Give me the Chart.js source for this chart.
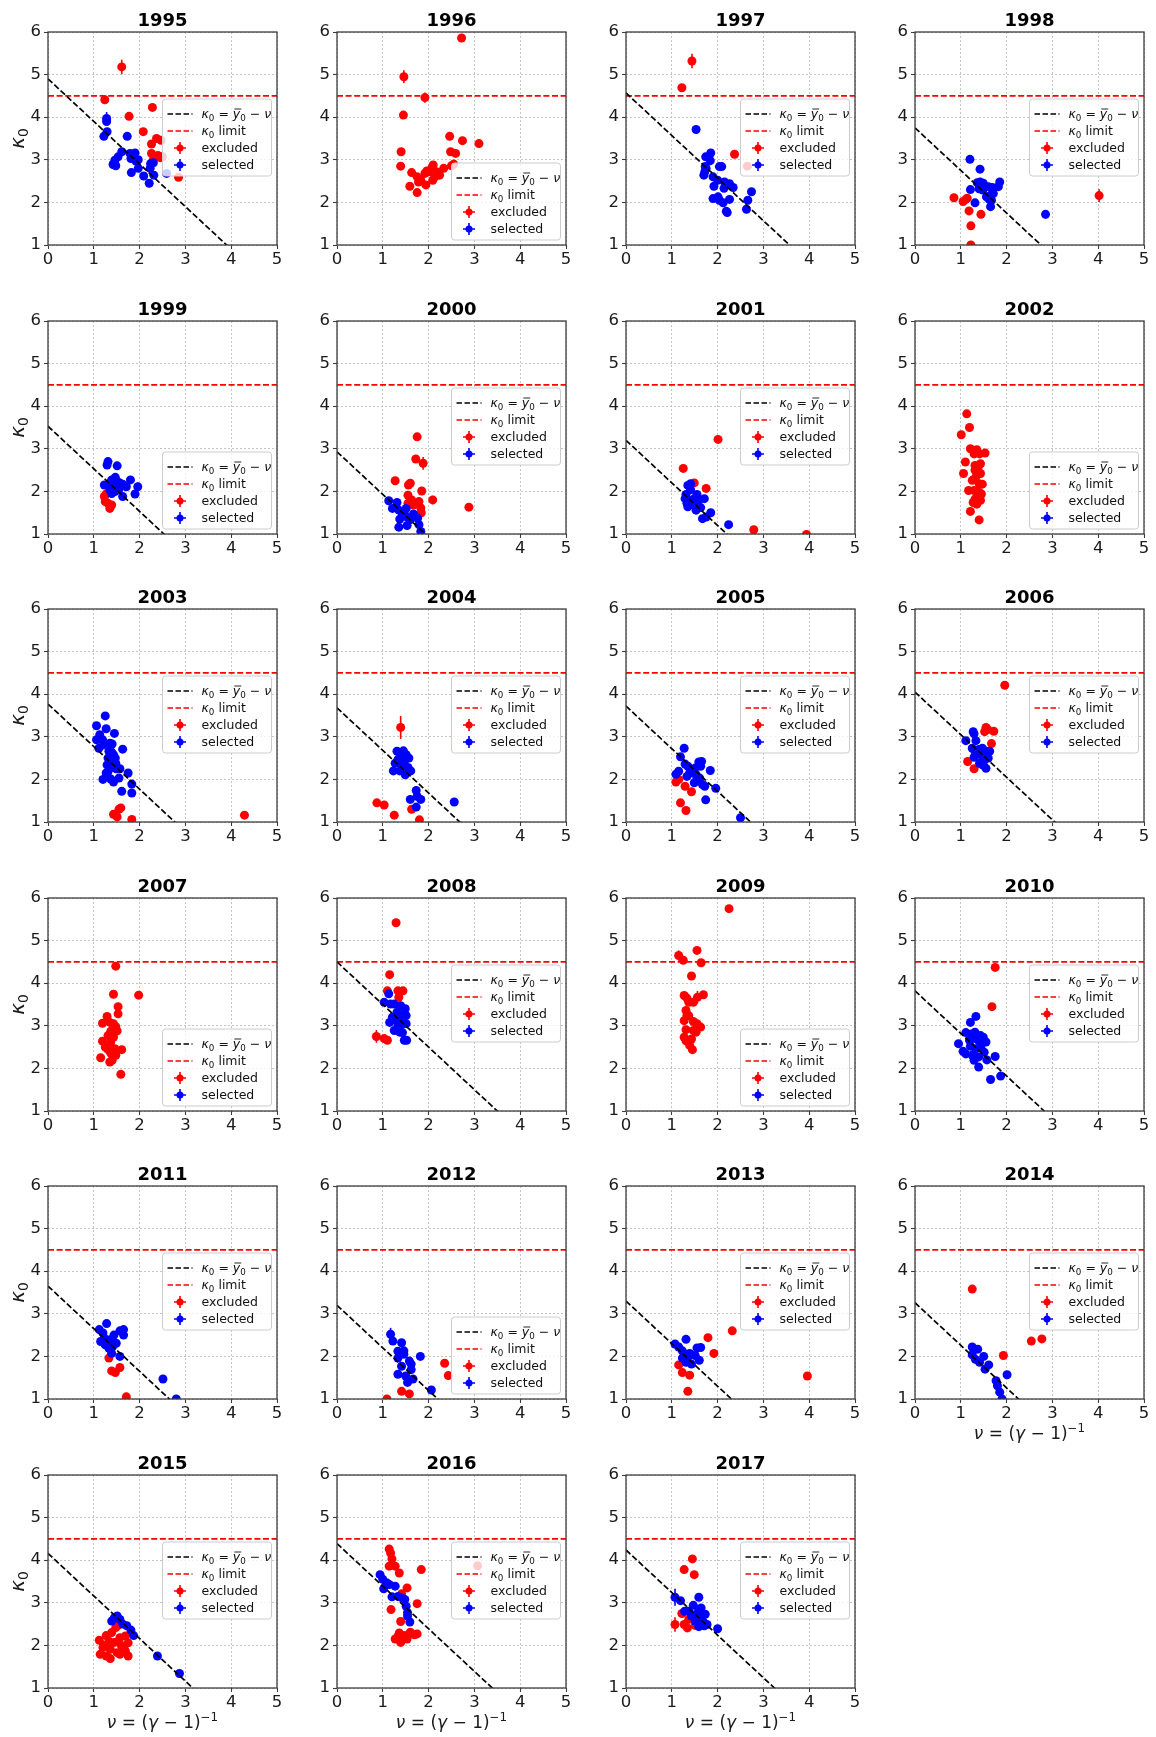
<!DOCTYPE html>
<html>
<head>
<meta charset="utf-8">
<script src="https://cdn.jsdelivr.net/npm/chart.js@4.4.1/dist/chart.umd.min.js"></script>
<style>
  html, body { margin: 0; padding: 0; background: #fff; }
  #grid { position: relative; width: 1156px; height: 1737px; overflow: hidden; }
  #grid canvas { position: absolute; }
</style>
</head>
<body>
<div id="grid"></div>
<script>
// one panel per year, 4 per row
const years = ['1995', '1996', '1997', '1998', '1999', '2000', '2001', '2002', '2003', '2004', '2005', '2006',
               '2007', '2008', '2009', '2010', '2011', '2012', '2013', '2014', '2015', '2016', '2017'];

// ȳ0 of the fitted line κ0 = ȳ0 − ν (null: no selected points that year)
const fitIntercept = [4.9, null, 4.57, 3.75, 3.53, 2.93, 3.2, null, 3.77, 3.68, 3.72, 4.05,
                      null, 4.5, null, 3.82, 3.65, 3.2, 3.3, 3.26, 4.16, 4.39, 4.24];

const kappaLimit = 4.5;

// where the legend sits in each panel
const legendSpot = ['center', 'lower', 'center', 'center', 'lower', 'center', 'center', 'lower', 'center', 'center', 'center', 'center',
                    'lower', 'center', 'lower', 'center', 'center', 'lower', 'center', 'center', 'center', 'center', 'center'];

// points are [ν, κ0, σ(κ0), σ(ν)]
const excludedPts = [
  [[1.61,5.18,0.17],[1.24,4.41,0.1],[1.77,4.02,0.07],[2.28,4.23,0.08],[2.08,3.66],[2.37,3.5],[2.47,3.46],[2.26,3.37],[2.26,3.15],[2.34,3.07],[2.45,3.05],[2.3,3.0],[2.5,3.07],[2.85,2.59],[2.4,3.1]],
  [[2.72,5.86,0.08],[1.46,4.95,0.15],[1.92,4.46,0.12,0.06],[1.45,4.05,0.08],[1.4,3.19],[1.39,2.85],[2.46,3.55],[2.74,3.45],[3.1,3.38],[2.48,3.19],[2.59,3.15],[2.55,2.9],[2.5,2.86],[2.33,2.8],[2.22,2.68],[2.14,2.6],[2.1,2.88],[2.07,2.81],[2.03,2.72],[1.96,2.74],[1.92,2.68],[1.63,2.7],[1.75,2.6],[1.78,2.48],[1.83,2.52],[1.59,2.38],[1.75,2.23],[1.94,2.41],[2.17,2.72],[2.24,2.64],[2.09,2.52]],
  [[1.44,5.32,0.17],[1.22,4.69],[2.37,3.13],[2.65,2.85]],
  [[0.85,2.11,0.08],[1.05,2.02],[1.11,2.07],[1.14,2.1],[1.18,1.8,0.07],[1.22,1.45],[1.22,1.0],[1.44,1.72],[4.02,2.16,0.15]],
  [[1.23,1.88],[1.25,1.76],[1.31,1.72],[1.35,1.6],[1.39,1.68],[1.27,1.94]],
  [[1.75,3.28],[1.72,2.76],[1.88,2.66,0.15],[1.27,2.25],[1.56,2.15],[1.6,2.19],[1.85,2.01],[2.09,1.8,0.1,0.05],[2.88,1.63,0.07],[1.55,1.91],[1.63,1.8],[1.55,1.72],[1.67,1.68],[1.79,1.76],[1.83,1.61],[1.84,1.5],[1.71,1.72]],
  [[2.01,3.22,0.08],[1.25,2.54,0.05],[1.49,2.2],[1.75,2.07],[2.79,1.1],[3.94,0.99]],
  [[1.13,3.82,0.08],[1.19,3.5,0.06],[1.01,3.33,0.06,0.05],[1.1,2.69],[1.06,2.42],[1.17,2.02],[1.21,3.0],[1.29,2.88],[1.35,2.98],[1.41,2.88],[1.53,2.9,0.08],[1.31,2.61],[1.38,2.57],[1.43,2.42],[1.33,2.34],[1.25,2.26],[1.4,2.18],[1.47,2.17],[1.29,2.02],[1.4,1.98],[1.45,1.94],[1.31,1.82],[1.27,1.74],[1.43,1.79],[1.35,1.7],[1.21,1.53],[1.4,1.33],[1.31,2.5],[1.43,2.65]],
  [[1.43,1.18],[1.51,1.12],[1.55,1.3],[1.59,1.33],[1.83,1.06],[4.29,1.16]],
  [[1.39,3.22,0.27],[0.87,1.45],[1.03,1.4,0,0.07],[1.25,1.16,0.07],[1.63,1.3],[1.8,1.05]],
  [[1.09,1.94],[1.15,2.0],[1.29,1.84,0.07],[1.19,1.45],[1.31,1.27],[1.43,1.71]],
  [[1.96,4.21,0.08],[1.55,3.22],[1.59,3.17],[1.52,3.12],[1.72,3.13],[1.67,2.84],[1.15,2.42],[1.29,2.25]],
  [[1.48,4.4],[1.43,3.74],[1.98,3.72],[1.53,3.45],[1.53,3.28],[1.29,3.22],[1.19,3.06],[1.35,3.08],[1.43,3.05],[1.48,2.98],[1.37,2.87],[1.51,2.88],[1.31,2.77],[1.43,2.73],[1.19,2.64],[1.37,2.62],[1.25,2.5],[1.31,2.44],[1.46,2.46],[1.61,2.44],[1.15,2.25],[1.37,2.36],[1.48,2.31],[1.35,2.15],[1.4,2.19],[1.59,1.86]],
  [[1.29,5.42,0.05],[1.15,4.2,0.05],[1.1,3.82],[1.33,3.82],[1.44,3.82],[1.35,3.67],[0.86,2.75,0.15,0.1],[1.03,2.7],[1.1,2.66]],
  [[2.25,5.75],[1.15,4.65,0.12],[1.25,4.54],[1.55,4.77],[1.64,4.48,0.08],[1.43,4.17],[1.27,3.71],[1.33,3.65],[1.56,3.67,0.15],[1.69,3.73,0.06],[1.37,3.55],[1.47,3.55],[1.31,3.36],[1.33,3.24],[1.37,3.24],[1.27,3.12],[1.47,3.1],[1.55,3.05],[1.31,2.91],[1.47,2.89],[1.63,2.97],[1.27,2.73],[1.31,2.65],[1.43,2.69],[1.39,2.54],[1.45,2.44],[1.53,2.85]],
  [[1.75,4.37,0.06],[1.68,3.45]],
  [[1.33,1.96],[1.39,1.66],[1.47,1.62],[1.57,1.74],[1.71,1.05]],
  [[1.41,1.18],[1.58,1.12],[2.35,1.84],[2.43,1.55],[1.09,1.0]],
  [[1.79,2.44],[2.32,2.6],[1.92,2.07,0.1],[1.15,1.8],[1.23,1.62],[1.39,1.56],[1.35,1.18,0.08],[3.96,1.54,0.08]],
  [[1.25,3.58,0.08],[1.93,2.02],[2.54,2.36],[2.77,2.41]],
  [[1.12,2.12,0.06],[1.27,2.23],[1.39,2.3],[1.48,2.42],[1.53,2.47],[1.57,2.18],[1.69,2.22],[1.33,2.1],[1.45,2.07],[1.6,2.0],[1.75,2.06],[1.22,2.0],[1.2,1.95],[1.36,1.91],[1.51,1.83],[1.69,1.87],[1.14,1.79],[1.27,1.75],[1.36,1.69],[1.57,1.79],[1.75,1.75],[1.65,1.98]],
  [[1.14,4.26],[1.17,4.17],[1.2,4.03],[1.14,3.86],[1.27,3.86],[1.36,3.7],[1.84,3.78,0.08],[1.53,3.35],[1.41,3.21],[1.18,2.84],[1.75,2.98],[1.39,2.56],[1.36,2.29],[1.33,2.21],[1.39,2.07],[1.48,2.23],[1.6,2.31],[1.69,2.25],[1.75,2.27],[1.27,2.15],[1.53,2.15],[3.07,3.87]],
  [[1.45,4.03],[1.27,3.78],[1.49,3.66],[1.07,2.49,0.17],[1.27,2.49],[1.34,2.41],[1.22,2.75],[1.37,2.61],[1.51,2.47]]
];

const selectedPts = [
  [[1.28,3.97,0.15],[1.28,3.9],[1.29,3.66],[1.22,3.55],[1.73,3.55],[1.61,3.19],[1.53,3.07],[1.46,2.99],[1.42,2.89],[1.48,2.86],[1.79,3.15],[1.81,3.03],[1.9,3.16],[1.92,2.97],[1.97,3.0],[1.82,2.7],[1.97,2.8],[2.09,2.62],[2.21,2.45],[2.23,2.8],[2.24,2.91],[2.3,2.93],[2.31,2.64],[1.86,3.07],[2.59,2.68]],
  [],
  [[1.53,3.71],[1.85,3.16],[1.74,3.07],[1.84,2.98],[1.73,2.84],[1.75,2.8],[1.72,2.72,0.15],[1.7,2.64],[2.04,2.84],[2.09,2.84],[1.9,2.6],[1.92,2.38],[2.15,2.48],[2.26,2.44],[2.34,2.35],[2.14,2.33],[1.9,2.09],[2.01,2.13],[2.04,2.05],[2.12,1.99],[2.26,2.07],[2.21,1.76],[2.19,1.79],[2.74,2.25],[2.66,2.05],[2.63,1.84],[2.0,2.52]],
  [[1.2,3.01],[1.42,2.78],[1.21,2.3],[1.31,1.99],[1.36,2.46],[1.42,2.48],[1.45,2.4],[1.4,2.32],[1.49,2.45],[1.6,2.37],[1.69,2.35],[1.56,2.13],[1.62,2.07],[1.65,2.17],[1.71,2.21],[1.67,2.05],[1.65,1.9,0.1],[1.82,2.37],[1.85,2.48],[2.85,1.72,0.1],[1.48,2.29]],
  [[1.31,2.7],[1.29,2.62],[1.51,2.6],[1.23,2.15],[1.35,2.19],[1.39,2.27],[1.47,2.33],[1.43,2.12],[1.47,2.0],[1.55,2.05],[1.63,2.17],[1.71,2.11],[1.8,2.27],[1.96,2.11,0.1],[1.9,1.94],[1.63,1.88],[1.35,2.04],[1.55,2.21],[1.39,1.95],[1.47,2.19]],
  [[1.13,1.78],[1.21,1.6],[1.31,1.74],[1.35,1.56],[1.47,1.52],[1.51,1.6],[1.37,1.35],[1.5,1.41],[1.59,1.33],[1.35,1.16],[1.53,1.2],[1.76,1.37],[1.79,1.22],[1.83,1.06],[1.43,1.47],[1.67,1.47]],
  [[1.35,2.14],[1.41,2.18],[1.31,1.93],[1.41,2.04],[1.29,1.83],[1.33,1.72],[1.35,1.64],[1.43,1.79],[1.49,1.68],[1.55,1.93],[1.59,1.8],[1.53,1.56],[1.63,1.62],[1.71,1.83],[1.67,1.36],[1.75,1.4],[1.85,1.5],[2.24,1.22],[1.49,1.83]],
  [],
  [[1.25,3.49],[1.06,3.26],[1.27,3.19],[1.45,3.08],[1.06,2.93],[1.13,3.05],[1.19,2.93],[1.11,2.73],[1.21,2.81],[1.35,2.85],[1.4,2.83],[1.33,2.66],[1.39,2.64],[1.43,2.58],[1.31,2.5],[1.37,2.44],[1.47,2.5],[1.48,2.38],[1.29,2.34],[1.39,2.28],[1.49,2.25],[1.57,2.25],[1.75,2.15],[1.63,2.71],[1.27,2.15],[1.2,2.0],[1.37,2.01],[1.43,1.94],[1.61,1.72],[1.83,1.68],[1.83,1.89],[1.55,2.03],[1.31,2.18]],
  [[1.31,2.66],[1.33,2.46],[1.39,2.58],[1.45,2.67],[1.51,2.58],[1.57,2.5],[1.47,2.42],[1.41,2.34],[1.27,2.38],[1.37,2.2],[1.23,2.2],[1.55,2.28],[1.61,2.2],[1.49,2.11],[1.6,1.53],[1.73,1.74,0.05],[1.75,1.6],[1.83,1.53],[1.73,1.35,0.07],[2.56,1.47],[1.47,2.5]],
  [[1.27,2.73],[1.19,2.53],[1.09,2.12],[1.15,2.19],[1.29,2.36],[1.35,2.31],[1.43,2.23],[1.33,2.07],[1.47,2.15],[1.53,2.11],[1.59,2.41],[1.65,2.42],[1.63,2.31],[1.55,2.0],[1.49,1.92],[1.61,2.03],[1.67,1.88],[1.72,1.84],[1.84,2.21],[1.96,1.79],[1.74,1.52],[2.5,1.1],[1.39,2.15],[1.51,2.27]],
  [[1.27,3.12],[1.29,3.07],[1.11,2.91],[1.33,2.91],[1.25,2.73],[1.31,2.66],[1.39,2.7],[1.47,2.73],[1.49,2.62],[1.43,2.58],[1.29,2.52],[1.55,2.66],[1.63,2.66],[1.6,2.5],[1.51,2.44],[1.41,2.38],[1.55,2.26],[1.47,2.34]],
  [],
  [[1.13,3.75],[1.03,3.55],[1.17,3.51],[1.25,3.51],[1.39,3.47],[1.49,3.4],[1.31,3.32],[1.21,3.2],[1.41,3.24],[1.51,3.24],[1.15,3.08],[1.29,3.12],[1.39,3.08],[1.44,3.05],[1.33,2.98],[1.25,2.89],[1.37,2.85],[1.43,2.84],[1.47,2.66],[1.52,2.66],[1.51,3.05]],
  [],
  [[1.33,3.22,0.07],[1.21,3.08],[1.11,2.84],[1.23,2.81],[1.31,2.85],[1.31,2.7],[1.43,2.77],[1.49,2.73],[1.39,2.65],[0.95,2.58],[1.21,2.52],[1.33,2.46],[1.44,2.5],[1.55,2.62],[1.05,2.4],[1.11,2.34],[1.25,2.31],[1.39,2.27],[1.29,2.19],[1.57,2.2],[1.75,2.28],[1.39,2.03],[1.65,1.74],[1.87,1.82],[1.51,2.38],[1.19,2.66]],
  [[1.12,2.63],[1.2,2.55],[1.28,2.77],[1.15,2.35],[1.25,2.27],[1.36,2.39],[1.44,2.5],[1.33,2.19],[1.39,2.07],[1.49,2.31],[1.57,2.6],[1.65,2.63],[1.65,2.5],[1.57,2.0],[2.51,1.47],[2.8,1.0],[1.23,2.43],[1.41,2.23]],
  [[1.17,2.52,0.15],[1.22,2.36],[1.41,2.32],[1.33,2.12],[1.46,2.05],[1.33,1.96],[1.58,1.89],[1.41,1.77],[1.62,1.69],[1.33,1.58],[1.5,1.54],[1.66,1.47],[1.54,1.39],[1.82,2.0],[2.06,1.21],[1.46,2.13],[1.62,1.82]],
  [[1.07,2.29],[1.31,2.4],[1.23,2.13],[1.15,2.22],[1.39,2.07],[1.55,2.2],[1.35,1.98],[1.51,2.02],[1.6,1.91],[1.43,1.82],[1.23,1.96],[1.63,2.21],[1.31,1.86]],
  [[1.25,2.22],[1.37,2.17],[1.25,2.04],[1.32,1.93],[1.41,1.86],[1.5,2.0],[1.53,1.7],[1.61,1.8],[1.77,1.43],[1.8,1.31],[1.85,1.16],[1.9,1.0],[2.01,1.57,0.08]],
  [[1.45,2.65],[1.39,2.57],[1.51,2.69],[1.57,2.61],[1.63,2.5],[1.72,2.46],[1.81,2.36],[1.87,2.23],[2.39,1.75],[2.87,1.34]],
  [[0.94,3.66],[1.0,3.55],[1.08,3.47],[1.02,3.33],[1.14,3.43],[1.27,3.39],[1.2,3.14],[1.33,3.15],[1.41,3.12],[1.48,3.08],[1.51,2.92],[1.54,2.77],[1.54,2.69],[1.59,2.55]],
  [[1.07,3.13,0.2],[1.19,3.05],[1.59,3.13],[1.47,2.94],[1.64,2.88],[1.56,2.77],[1.73,2.73],[1.43,2.69],[1.59,2.65],[1.51,2.57],[1.69,2.55],[1.77,2.49],[1.59,2.44],[1.71,2.46],[1.37,2.8],[2.0,2.39],[1.28,2.8]]
];

const FONT = '"DejaVu Sans", Verdana, sans-serif';
const RED = '#ff0000';
const BLUE = '#0000ff';
const COL_W = 289, ROW_H = 288.5;
const PLOT_TOP = 32, PLOT_LEFT = 48, PLOT_W = 229, PLOT_H = 213;

// text pieces: [text, kind] kind = r | i | sub | sup | ibar (italic with overbar)
const fitLabel = [['κ', 'i'], ['0', 'sub'], [' = ', 'r'], ['y', 'ibar'], ['0', 'sub'], [' − ', 'r'], ['ν', 'i']];
const limitLabel = [['κ', 'i'], ['0', 'sub'], [' limit', 'r']];
const xTitle = [['ν', 'i'], [' = (', 'r'], ['γ', 'i'], [' − 1)', 'r'], ['−1', 'sup']];
const yTitle = [['κ', 'i'], ['0', 'sub']];

function setRunFont(ctx, kind, size) {
  const small = kind === 'sub' || kind === 'sup';
  const italic = kind === 'i' || kind === 'ibar';
  ctx.font = (italic ? 'italic ' : '') + (small ? size * 0.7 : size) + 'px ' + FONT;
}

function runsWidth(ctx, parts, size) {
  let w = 0;
  for (const [txt, kind] of parts) { setRunFont(ctx, kind, size); w += ctx.measureText(txt).width; }
  return w;
}

function drawRuns(ctx, x, y, parts, size) {
  ctx.textAlign = 'left';
  ctx.textBaseline = 'alphabetic';
  for (const [txt, kind] of parts) {
    setRunFont(ctx, kind, size);
    const dy = kind === 'sub' ? size * 0.22 : kind === 'sup' ? -size * 0.42 : 0;
    ctx.fillText(txt, x, y + dy);
    const w = ctx.measureText(txt).width;
    if (kind === 'ibar') {
      ctx.save();
      ctx.lineWidth = 0.9;
      ctx.strokeStyle = ctx.fillStyle;
      ctx.beginPath();
      ctx.moveTo(x + size * 0.12, y - size * 0.72);
      ctx.lineTo(x + w + size * 0.08, y - size * 0.72);
      ctx.stroke();
      ctx.restore();
    }
    x += w;
  }
}

function toPoints(list) {
  return list.map(p => ({ x: p[0], y: p[1], ey: p[2] || 0, ex: p[3] || 0 }));
}

// vertical / horizontal error bars, drawn under each marker set
const errorBars = {
  id: 'errorBars',
  beforeDatasetDraw(chart, args) {
    const ds = chart.data.datasets[args.index];
    if (!ds.withErrors) return;
    const { ctx, chartArea: a, scales: { x, y } } = chart;
    ctx.save();
    ctx.beginPath();
    ctx.rect(a.left, a.top, a.right - a.left, a.bottom - a.top);
    ctx.clip();
    ctx.strokeStyle = ds.backgroundColor;
    ctx.lineWidth = 1.6;
    ds.data.forEach(p => {
      const px = x.getPixelForValue(p.x), py = y.getPixelForValue(p.y);
      ctx.beginPath();
      if (p.ey) {
        ctx.moveTo(px, y.getPixelForValue(p.y - p.ey));
        ctx.lineTo(px, y.getPixelForValue(p.y + p.ey));
      }
      if (p.ex) {
        ctx.moveTo(x.getPixelForValue(p.x - p.ex), py);
        ctx.lineTo(x.getPixelForValue(p.x + p.ex), py);
      }
      ctx.stroke();
    });
    ctx.restore();
  }
};

function drawLegend(ctx, a, spot) {
  const w = 109, h = 77;
  const x = a.right - 5.5 - w;
  const y = spot === 'lower' ? a.bottom - 5 - h : (a.top + a.bottom - h) / 2 - 1;
  ctx.save();
  ctx.beginPath();
  ctx.roundRect(x, y, w, h, 3);
  ctx.fillStyle = 'rgba(255,255,255,0.8)';
  ctx.fill();
  ctx.strokeStyle = '#cccccc';
  ctx.lineWidth = 1;
  ctx.stroke();

  const rows = [y + 15, y + 32, y + 49, y + 66];
  const sx0 = x + 5, sx1 = x + 30, tx = x + 39;

  // dashed line samples
  [['#000', rows[0]], [RED, rows[1]]].forEach(([c, ry]) => {
    ctx.beginPath();
    ctx.setLineDash([5.5, 2.5]);
    ctx.strokeStyle = c;
    ctx.lineWidth = 1.7;
    ctx.moveTo(sx0, ry);
    ctx.lineTo(sx1, ry);
    ctx.stroke();
  });
  ctx.setLineDash([]);

  // marker-with-errorbar samples
  [[RED, rows[2]], [BLUE, rows[3]]].forEach(([c, ry]) => {
    const cx = (sx0 + sx1) / 2;
    ctx.strokeStyle = c;
    ctx.fillStyle = c;
    ctx.lineWidth = 1.6;
    ctx.beginPath();
    ctx.moveTo(cx - 6, ry); ctx.lineTo(cx + 6, ry);
    ctx.moveTo(cx, ry - 6); ctx.lineTo(cx, ry + 6);
    ctx.stroke();
    ctx.beginPath();
    ctx.arc(cx, ry, 3.5, 0, Math.PI * 2);
    ctx.fill();
  });

  ctx.fillStyle = '#111';
  drawRuns(ctx, tx, rows[0] + 4, fitLabel, 12.5);
  drawRuns(ctx, tx, rows[1] + 4, limitLabel, 12.5);
  drawRuns(ctx, tx, rows[2] + 4, [['excluded', 'r']], 12.5);
  drawRuns(ctx, tx, rows[3] + 4, [['selected', 'r']], 12.5);
  ctx.restore();
}

// frame, legend, title and axis labels of a panel
const panelDecor = {
  id: 'panelDecor',
  afterDraw(chart, args, opts) {
    const { ctx, chartArea: a } = chart;
    ctx.save();
    ctx.strokeStyle = '#3c3c3c';
    ctx.lineWidth = 1.3;
    ctx.strokeRect(a.left, a.top, a.right - a.left, a.bottom - a.top);

    drawLegend(ctx, a, opts.spot);

    ctx.fillStyle = '#000';
    ctx.font = 'bold 18px ' + FONT;
    ctx.textAlign = 'center';
    ctx.textBaseline = 'alphabetic';
    ctx.fillText(opts.title, (a.left + a.right) / 2, a.top - 6);

    ctx.fillStyle = '#1a1a1a';
    if (opts.yLabel) {
      ctx.save();
      ctx.translate(24, (a.top + a.bottom) / 2);
      ctx.rotate(-Math.PI / 2);
      const w = runsWidth(ctx, yTitle, 20);
      drawRuns(ctx, -w / 2, 0, yTitle, 20);
      ctx.restore();
    }
    if (opts.xLabel) {
      const w = runsWidth(ctx, xTitle, 17);
      drawRuns(ctx, (a.left + a.right) / 2 - w / 2, a.bottom + 40, xTitle, 17);
    }
    ctx.restore();
  }
};

const holder = document.getElementById('grid');

years.forEach((year, i) => {
  const col = i % 4, row = Math.floor(i / 4);
  const lastInColumn = i + 4 >= years.length;
  const bottomSpace = lastInColumn ? 52 : 28;

  const canvas = document.createElement('canvas');
  canvas.width = COL_W;
  canvas.height = PLOT_TOP + PLOT_H + bottomSpace;
  canvas.style.left = (col * COL_W) + 'px';
  canvas.style.top = Math.round(row * ROW_H) + 'px';
  holder.appendChild(canvas);

  const b = fitIntercept[i];
  const fitLine = b === null ? [] : [{ x: 0, y: b }, { x: 5, y: b - 5 }];
  const limitLine = [{ x: 0, y: kappaLimit }, { x: 5, y: kappaLimit }];

  const axisCommon = {
    type: 'linear',
    ticks: { stepSize: 1, color: '#1a1a1a', font: { family: FONT, size: 16.5 } },
    grid: { color: '#c4c4c4', lineWidth: 1, tickLength: 4, tickColor: '#3c3c3c', tickWidth: 1.1 },
    border: { display: false, dash: [2, 2] }
  };

  new Chart(canvas, {
    type: 'scatter',
    data: {
      datasets: [
        { label: 'fit', data: fitLine, showLine: true, borderColor: '#000', borderWidth: 1.7,
          borderDash: [6, 2.6], pointRadius: 0, order: 0 },
        { label: 'limit', data: limitLine, showLine: true, borderColor: RED, borderWidth: 1.7,
          borderDash: [6, 2.6], pointRadius: 0, order: 1 },
        { label: 'selected', data: toPoints(selectedPts[i]), backgroundColor: BLUE, borderWidth: 0,
          pointRadius: 4.5, withErrors: true, order: 2 },
        { label: 'excluded', data: toPoints(excludedPts[i]), backgroundColor: RED, borderWidth: 0,
          pointRadius: 4.5, withErrors: true, order: 3 }
      ]
    },
    options: {
      responsive: false,
      animation: false,
      devicePixelRatio: 1,
      layout: { padding: { top: PLOT_TOP, right: COL_W - PLOT_LEFT - PLOT_W, left: 0, bottom: 0 } },
      scales: {
        x: { ...axisCommon, min: 0, max: 5,
             ticks: { ...axisCommon.ticks, padding: 1, maxRotation: 0 },
             afterFit: s => { s.height = bottomSpace; } },
        y: { ...axisCommon, min: 1, max: 6,
             ticks: { ...axisCommon.ticks, padding: 3 },
             afterFit: s => { s.width = PLOT_LEFT; } }
      },
      plugins: {
        legend: { display: false },
        tooltip: { enabled: false },
        panelDecor: { title: year, spot: legendSpot[i], yLabel: col === 0, xLabel: lastInColumn }
      }
    },
    plugins: [errorBars, panelDecor]
  });
});
</script>
</body>
</html>
